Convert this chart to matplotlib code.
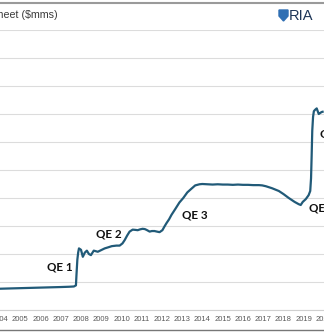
import matplotlib.pyplot as plt
from matplotlib.patches import Polygon
from matplotlib.lines import Line2D

# --- Data (date in decimal years, total assets in $ trillions) ---
dates = [2005.02, 2005.5, 2006.0, 2006.5, 2007.0, 2007.5, 2008.0, 2008.4, 2008.65,
         2008.75, 2008.78, 2008.82, 2008.86, 2008.90, 2009.0, 2009.09, 2009.19,
         2009.29, 2009.39, 2009.49, 2009.63, 2009.83, 2010.0, 2010.17, 2010.35,
         2010.52, 2010.75, 2010.91, 2011.05, 2011.16, 2011.28, 2011.40, 2011.55,
         2011.7, 2011.8, 2011.92, 2012.04, 2012.15, 2012.24, 2012.39, 2012.5,
         2012.63, 2012.75, 2012.88, 2013.02, 2013.12, 2013.22, 2013.35, 2013.47,
         2013.65, 2013.86, 2014.05, 2014.25, 2014.45, 2014.64, 2014.85, 2014.99,
         2015.25, 2015.5, 2015.75, 2016.0, 2016.25, 2016.5, 2016.75, 2017.0,
         2017.25, 2017.5, 2017.79, 2017.95, 2018.13, 2018.43, 2018.77, 2019.0,
         2019.26, 2019.55, 2019.75, 2019.85, 2019.95, 2020.10, 2020.24, 2020.32,
         2020.36, 2020.39, 2020.42, 2020.46, 2020.50, 2020.56, 2020.64, 2020.70,
         2020.74, 2020.80, 2020.88, 2020.93]
assets = [0.76, 0.77, 0.78, 0.79, 0.80, 0.81, 0.82, 0.83, 0.84,
          0.88, 1.30, 1.80, 2.05, 2.20, 2.15, 1.90, 2.05,
          2.12, 2.00, 1.96, 2.12, 2.08, 2.14, 2.20, 2.24,
          2.28, 2.30, 2.30, 2.38, 2.50, 2.66, 2.80, 2.87,
          2.86, 2.85, 2.88, 2.90, 2.89, 2.86, 2.80, 2.82,
          2.82, 2.80, 2.78, 2.85, 2.98, 3.10, 3.24, 3.40,
          3.60, 3.84, 4.00, 4.20, 4.33, 4.45, 4.49, 4.50,
          4.49, 4.48, 4.49, 4.48, 4.48, 4.47, 4.48, 4.47,
          4.47, 4.46, 4.46, 4.45, 4.42, 4.35, 4.25, 4.14,
          4.00, 3.86, 3.78, 3.75, 3.86, 3.96, 4.10, 4.25,
          4.70, 5.50, 6.40, 6.90, 7.10, 7.15, 7.20, 7.08,
          7.00, 7.03, 7.07, 7.08]

year_labels = list(range(2004, 2021))
qe_labels = ["QE 1", "QE 2", "QE 3", "QE 4", "QE 5"]
qe_at = [(2007.94, 1.54), (2010.37, 2.71), (2014.60, 3.39), (2020.24, 3.64), (2020.78, 6.29)]
qe_align = ["center", "center", "center", "left", "left"]

W, H = 324, 334
fig = plt.figure(figsize=(W / 100, H / 100), dpi=100)
fig.patch.set_facecolor("white")

# axes spans full width (the chart is a crop of a wider picture)
ax = fig.add_axes([0, (H - 310) / H, 1, 280 / H])
ax.plot(dates, assets, color="#215a78", lw=1.6, solid_joinstyle="round")

ax.set_xlim(2005.02, 2020.93)
ax.set_ylim(0, 10)
ax.set_yticks(range(0, 11))
ax.set_yticklabels([])
ax.tick_params(axis="y", length=0)
# year labels sit at the end of each year
ax.set_xticks([y + 1 for y in year_labels])
ax.set_xticklabels([str(y) for y in year_labels], fontsize=5.5, color="#595959",
                   family="Liberation Sans")
ax.tick_params(axis="x", length=0, pad=4.5)
ax.grid(axis="y", color="#dcdcdc", lw=0.8)
ax.set_axisbelow(True)
for s in ["left", "right", "top"]:
    ax.spines[s].set_visible(False)
ax.spines["bottom"].set_color("#d0d0d0")
ax.spines["bottom"].set_linewidth(0.8)

for lab, (x, y), ha in zip(qe_labels, qe_at, qe_align):
    ax.text(x, y, lab, ha=ha, va="center", fontsize=8.4, fontweight="bold",
            family="Lato", color="#111111", clip_on=False)

# title (cropped on the left in the reference)
fig.text(58 / W, 1 - 15 / H, "Fed Balance Sheet ($mms)", ha="right", va="center",
         fontsize=7.7, color="#3a3a3a", family="Liberation Sans")

# logo
shield = [(279, 10), (288, 10), (288, 16), (283.5, 21), (279, 16)]
fig.patches.append(Polygon([(x / W, 1 - y / H) for x, y in shield], closed=True,
                           transform=fig.transFigure, color="#2f6fb3"))
fig.text(289 / W, 1 - 16 / H, "RIA", ha="left", va="center", fontsize=10.5,
         color="#1d3557", family="Liberation Sans")

# frame lines top and bottom
fig.add_artist(Line2D([0, 1], [1 - 3 / H, 1 - 3 / H], transform=fig.transFigure,
                      color="#9a9a9a", lw=1.5))
fig.add_artist(Line2D([0, 1], [1 - 330 / H, 1 - 330 / H], transform=fig.transFigure,
                      color="#777777", lw=1.0))

fig.savefig("out.png", dpi=100, facecolor="white")
